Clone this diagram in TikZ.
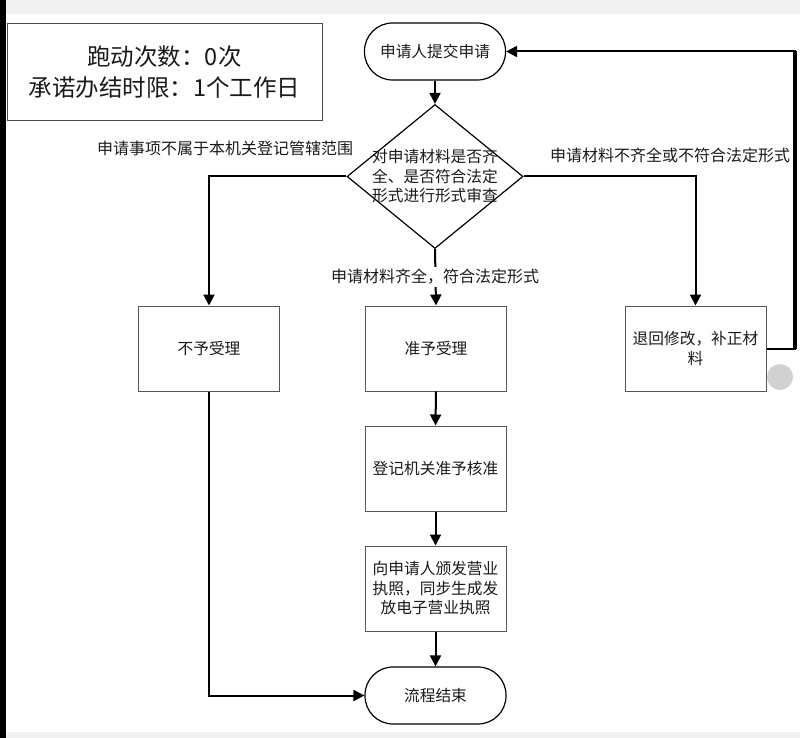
\documentclass[tikz,border=0pt]{standalone}
\usepackage{fontspec}
\setmainfont{Noto Sans CJK SC}
\usetikzlibrary{shapes.geometric,arrows.meta}
\definecolor{txt}{HTML}{1A1A1A}
\definecolor{bord}{HTML}{555555}
\definecolor{chrome}{HTML}{F1F1F1}
\begin{document}
\begin{tikzpicture}[x=1pt,y=-1pt,
  every node/.style={text=txt},
  body/.style={font=\fontsize{15.7}{19.5}\selectfont},
  procbox/.style={draw=bord,line width=1pt,fill=white,minimum width=141pt,minimum height=85pt,inner sep=0pt,align=center,body},
  term/.style={draw=black,line width=1.2pt,fill=white,minimum width=141pt,minimum height=57pt,rounded corners=28pt,inner sep=0pt,align=center,body},
  conn/.style={draw=black,line width=2pt,-{Triangle[length=11pt,width=11pt]}},
  lbl/.style={font=\fontsize{16}{19.5}\selectfont,inner sep=0pt}]
\useasboundingbox (0,0) rectangle (800,738);
\fill[white] (0,0) rectangle (800,738);
% screenshot chrome
\fill[chrome] (0,0) rectangle (800,14);
\fill[chrome] (0,732) rectangle (800,738);
\fill[black] (0,0) rectangle (6,738);
\fill[black!18] (780,377) circle (13);
% info box
\node[draw=black!70,line width=1pt,minimum width=315pt,minimum height=97pt,inner sep=0pt,align=center,font=\fontsize{23.5}{31}\selectfont] (info) at (164.5,72.5) {跑动次数：0次\\承诺办结时限：1个工作日};
% nodes
\node[term] (start) at (435,51.5) {申请人提交申请};
\node[draw=black,line width=1.2pt,fill=white,shape=diamond,minimum width=176pt,minimum height=144pt,inner sep=0pt] (d) at (435,176.5) {};
\node[body,align=center,inner sep=0pt] (dtext) at (d.center) {对申请材料是否齐\\全、是否符合法定\\形式进行形式审查};
\node[procbox] (b1) at (209,348.5) {不予受理};
\node[procbox] (b2) at (436,348.5) {准予受理};
\node[procbox] (b3) at (695.5,348.5) {退回修改，补正材\\料};
\node[procbox] (b4) at (435.5,468.5) {登记机关准予核准};
\node[procbox] (b5) at (435.5,588.5) {向申请人颁发营业\\执照，同步生成发\\放电子营业执照};
\node[term] (end) at (435.5,695.5) {流程结束};
% connectors
\coordinate (fb) at (795,0);
\draw[conn] (start.south) -- (d.north);
\draw[conn] (d.west) -| (b1.north);
\draw[conn] (d.east) -| (b3.north);
\draw[conn] (d.south) -- (b2.north);
\draw[conn] (b2.south) -- (b4.north);
\draw[conn] (b4.south) -- (b5.north);
\draw[conn] (b5.south) -- (end.north);
\draw[conn] (b1.south) |- (end.west);
\draw[conn] (b3.east) -- (b3.east -| fb) |- (start.east);
\draw[line width=3.5pt] (b3.east -| fb) -- (start.east -| fb);
% labels
\node[lbl] (l1) at (225,148) {申请事项不属于本机关登记管辖范围};
\node[lbl] (l2) at (670,155) {申请材料不齐全或不符合法定形式};
\node[lbl,fill=white,inner sep=2pt] (l3) at (435,277) {申请材料齐全，符合法定形式};
\end{tikzpicture}
\end{document}
